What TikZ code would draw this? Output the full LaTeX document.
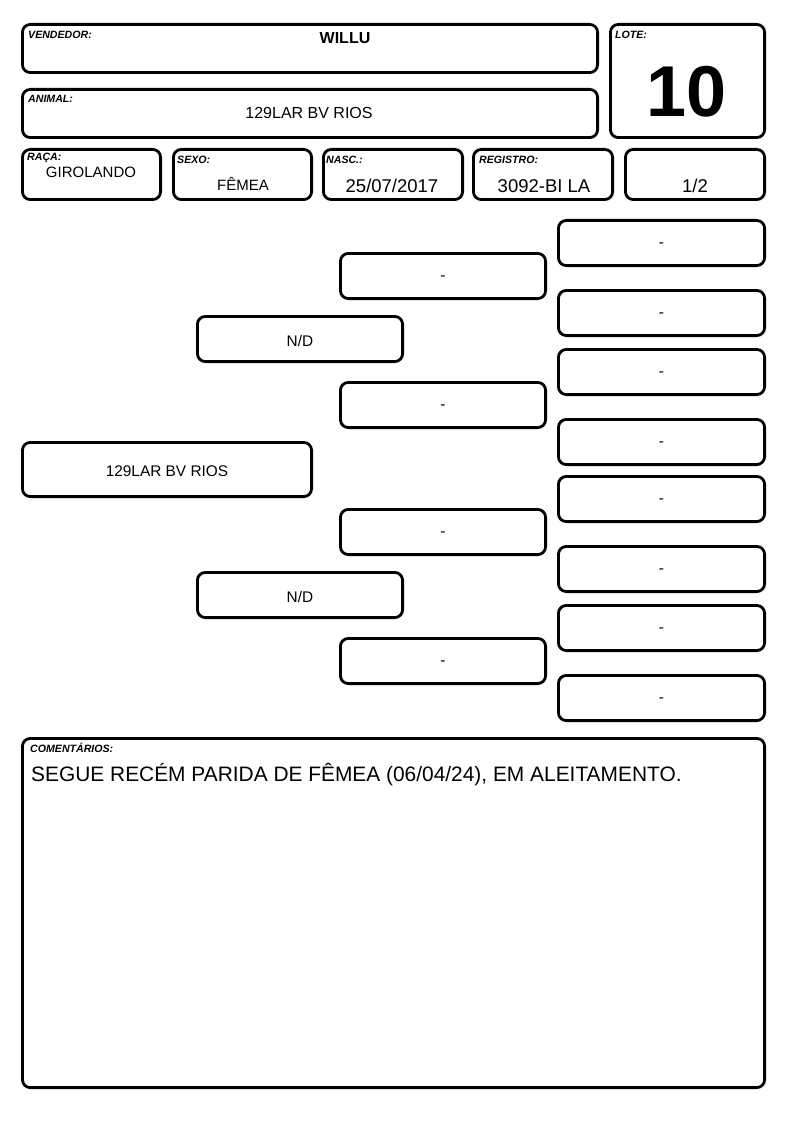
\documentclass[tikz,border=0pt]{standalone}
\usepackage{fontspec}
\setmainfont{Liberation Sans}
\begin{document}
\begin{tikzpicture}[x=1pt,y=-1pt,
  box/.style={draw=black,line width=2.8pt,rounded corners=8pt,inner sep=0pt,fill=white},
  lbl/.style={anchor=west,inner sep=0pt,font=\fontsize{10.6}{12}\selectfont\bfseries\itshape},
  val/.style={inner sep=0pt,font=\fontsize{15}{18}\selectfont},
  big/.style={inner sep=0pt,font=\fontsize{18.5}{22}\selectfont},
  ped/.style={inner sep=0pt,font=\fontsize{15.4}{18}\selectfont,yshift=-1.5pt},
  dashtxt/.style={inner sep=0pt,font=\fontsize{15.4}{18}\selectfont,yshift=-2.5pt}]
\newcommand\bx[5]{\node[box,minimum width={#4pt-#2pt-2.8pt},minimum height={#5pt-#3pt-2.8pt}] (#1) at ({(#2+#4)/2},{(#3+#5)/2}) {};}
\useasboundingbox (0,0) rectangle (794,1123);
% header
\bx{vend}{21}{23}{599}{74}
\bx{anim}{21}{88}{599}{139}
\bx{lote}{609}{23}{766}{139}
\bx{raca}{21}{148}{162}{201}
\bx{sexo}{172}{148}{313}{201}
\bx{nasc}{322}{148}{464}{201}
\bx{reg}{472}{148}{614}{201}
\bx{frac}{624}{148}{766}{201}
\node[lbl] (tvend) at (28,35) {VENDEDOR:};
\node[inner sep=0pt,font=\fontsize{16}{19}\selectfont\bfseries] (vvend) at (345,38) {WILLU};
\node[lbl] (tanim) at (28,99) {ANIMAL:};
\node[inner sep=0pt,font=\fontsize{16}{19}\selectfont] (vanim) at (309,113) {129LAR BV RIOS};
\node[lbl] (tlote) at (615,35) {LOTE:};
\node[inner sep=0pt,font=\fontsize{72}{76}\selectfont\bfseries] (vlote) at (687,92) {10};
\node[lbl] (traca) at (27,158) {RAÇA:};
\node[val] (vraca) at (91,172) {GIROLANDO};
\node[lbl] (tsexo) at (177,160) {SEXO:};
\node[val] (vsexo) at (243,184) {FÊMEA};
\node[lbl] (tnasc) at (326,160) {NASC.:};
\node[big] (vnasc) at (392,186) {25/07/2017};
\node[lbl] (treg) at (479,160) {REGISTRO:};
\node[big] (vreg) at (544,186) {3092-BI LA};
\node[big] (vfrac) at (695,186) {1/2};
% pedigree
\bx{p0}{21}{441}{313}{498}
\node[ped] (p0t) at (p0) {129LAR BV RIOS};
\bx{p1}{196}{315}{404}{363}
\node[ped] (p1t) at (p1) {N/D};
\bx{p2}{196}{571}{404}{619}
\node[ped] (p2t) at (p2) {N/D};
\bx{p11}{339}{252}{547}{300}
\bx{p12}{339}{381}{547}{429}
\bx{p21}{339}{508}{547}{556}
\bx{p22}{339}{637}{547}{685}
\bx{p111}{557}{219}{766}{267}
\bx{p112}{557}{289}{766}{337}
\bx{p121}{557}{348}{766}{396}
\bx{p122}{557}{418}{766}{466}
\bx{p211}{557}{475}{766}{523}
\bx{p212}{557}{545}{766}{593}
\bx{p221}{557}{604}{766}{652}
\bx{p222}{557}{674}{766}{722}
\foreach \n in {p11,p12,p21,p22,p111,p112,p121,p122,p211,p212,p221,p222}
  \node[dashtxt] (\n t) at (\n) {-};
% comments
\bx{com}{21}{737}{766}{1089}
\node[lbl] (tcom) at (30,748) {COMENTÁRIOS:};
\node[inner sep=0pt,anchor=west,font=\fontsize{20.9}{24}\selectfont] (vcom) at (31,775) {SEGUE RECÉM PARIDA DE FÊMEA (06/04/24), EM ALEITAMENTO.};
\end{tikzpicture}
\end{document}
